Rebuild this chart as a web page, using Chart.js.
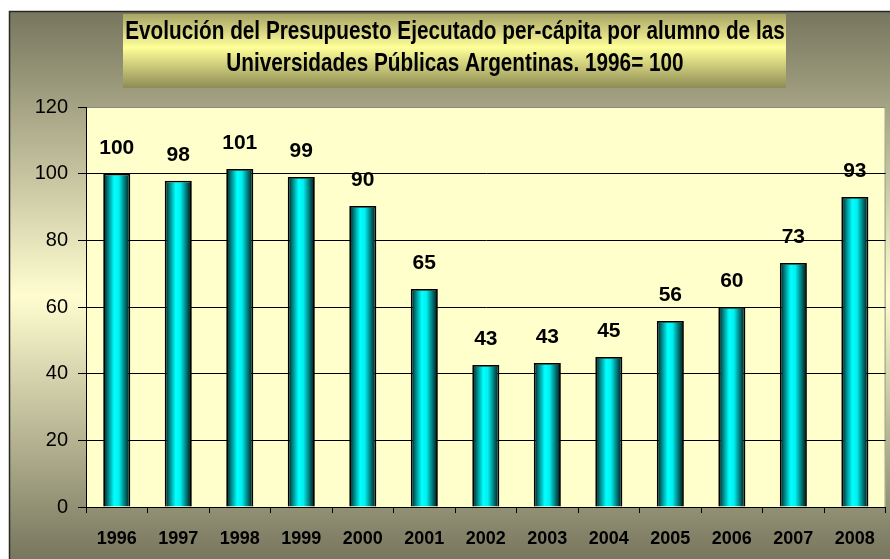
<!DOCTYPE html>
<html>
<head>
<meta charset="utf-8">
<script src="https://cdn.jsdelivr.net/npm/chart.js@4/dist/chart.umd.min.js"></script>
<style>
  html, body { margin: 0; padding: 0; background: #fff; }
  canvas { display: block; }
</style>
</head>
<body>
<canvas id="grafico" width="890" height="559"></canvas>
<script>
// === Datos ===
const anios = ["1996", "1997", "1998", "1999", "2000", "2001", "2002", "2003", "2004", "2005", "2006", "2007", "2008"];
const valores = [100, 97.9, 101.4, 99, 90.3, 65.4, 42.6, 43.2, 45, 55.8, 60, 73.2, 93];
const etiquetas = ["100", "98", "101", "99", "90", "65", "43", "43", "45", "56", "60", "73", "93"];
const titulo = [
  "Evolución del Presupuesto Ejecutado per-cápita por alumno de las",
  "Universidades Públicas Argentinas. 1996= 100"
];

const fuente = "'Liberation Sans', Arial, sans-serif";

// Fondo degradado, caja del título y área de trazado
const fondo = {
  id: "fondo",
  beforeDraw(chart) {
    const { ctx, chartArea: a } = chart;
    ctx.save();
    ctx.fillStyle = "#ffffff";
    ctx.fillRect(0, 0, chart.width, chart.height);

    const g = ctx.createLinearGradient(0, 11, 0, chart.height);
    g.addColorStop(0, "#77765e");
    g.addColorStop(0.52, "#fffdd0");
    g.addColorStop(1, "#77765e");
    ctx.fillStyle = g;
    ctx.fillRect(9, 11, chart.width - 9, chart.height - 11);
    ctx.strokeStyle = "#2a2a22";
    ctx.lineWidth = 1.5;
    ctx.beginPath();
    ctx.moveTo(9.5, chart.height);
    ctx.lineTo(9.5, 11.5);
    ctx.lineTo(chart.width, 11.5);
    ctx.stroke();

    // caja del título
    const t = ctx.createLinearGradient(0, 14, 0, 88);
    t.addColorStop(0, "#a8a466");
    t.addColorStop(0.45, "#ffff99");
    t.addColorStop(1, "#8e8c55");
    ctx.fillStyle = t;
    ctx.fillRect(123, 14, 663, 74);

    // texto del título (fuente estrecha simulada)
    ctx.fillStyle = "#000";
    ctx.font = "bold 25px " + fuente;
    ctx.textAlign = "center";
    ctx.textBaseline = "middle";
    ctx.save();
    ctx.translate(455, 0);
    ctx.scale(0.83, 1);
    ctx.fillText(titulo[0], 0, 32);
    ctx.fillText(titulo[1], 0, 64);
    ctx.restore();

    // área de trazado
    ctx.fillStyle = "#ffffcc";
    ctx.fillRect(a.left, a.top, a.right - a.left, a.bottom - a.top);
    ctx.strokeStyle = "#8a8a80";
    ctx.lineWidth = 1;
    ctx.beginPath();
    ctx.moveTo(a.left, a.top + 0.5);
    ctx.lineTo(a.right - 0.5, a.top + 0.5);
    ctx.lineTo(a.right - 0.5, a.bottom);
    ctx.stroke();
    ctx.restore();
  }
};

// Etiquetas de valor sobre cada barra
const rotulos = {
  id: "rotulos",
  afterDatasetsDraw(chart) {
    const { ctx } = chart;
    const meta = chart.getDatasetMeta(0);
    ctx.save();
    ctx.font = "bold 21px " + fuente;
    ctx.fillStyle = "#000";
    ctx.textAlign = "center";
    ctx.textBaseline = "alphabetic";
    meta.data.forEach((bar, i) => {
      ctx.fillText(etiquetas[i], bar.x, bar.y - 20);
    });
    ctx.restore();
  }
};

function colorBarra(c) {
  const chart = c.chart;
  if (!chart.chartArea || !chart.scales.x) return "#00ffff";
  const x = chart.scales.x.getPixelForValue(c.dataIndex);
  const w = 13;
  const g = chart.ctx.createLinearGradient(x - w, 0, x + w, 0);
  g.addColorStop(0, "#001a1a");
  g.addColorStop(0.14, "#007575");
  g.addColorStop(0.4, "#00ffff");
  g.addColorStop(0.58, "#00f0f0");
  g.addColorStop(0.84, "#006868");
  g.addColorStop(1, "#001818");
  return g;
}

const ctx = document.getElementById("grafico").getContext("2d");
const chart = new Chart(ctx, {
  type: "bar",
  data: {
    labels: anios,
    datasets: [{
      data: valores,
      backgroundColor: colorBarra,
      borderColor: "#000000",
      borderWidth: 1.8,
      categoryPercentage: 1,
      barPercentage: 0.44
    }]
  },
  options: {
    responsive: false,
    devicePixelRatio: 1,
    animation: false,
    layout: { padding: { left: 9, right: 3, top: 107, bottom: 0 } },
    plugins: {
      legend: { display: false },
      tooltip: { enabled: false },
      title: { display: false }
    },
    scales: {
      x: {
        offset: true,
        grid: { display: true, drawOnChartArea: false, offset: true, tickLength: 6, tickColor: "#000", color: "#000" },
        border: { display: true, color: "#000", width: 1 },
        ticks: { color: "#000", padding: 15, font: { family: fuente, size: 18, weight: "bold" }, maxRotation: 0 },
        afterFit(s) { s.height = 52; }
      },
      y: {
        min: 0,
        max: 120,
        ticks: { stepSize: 20, color: "#000", padding: 10, font: { family: fuente, size: 20 } },
        grid: {
          color: c => (c.tick && c.tick.value === 120 ? "#8a8a80" : "#000"),
          tickColor: "#000",
          tickLength: 8,
          lineWidth: 1
        },
        border: { display: true, color: "#000", width: 1 },
        afterFit(s) { s.width = 77; }
      }
    }
  },
  plugins: [fondo, rotulos]
});
</script>
</body>
</html>
